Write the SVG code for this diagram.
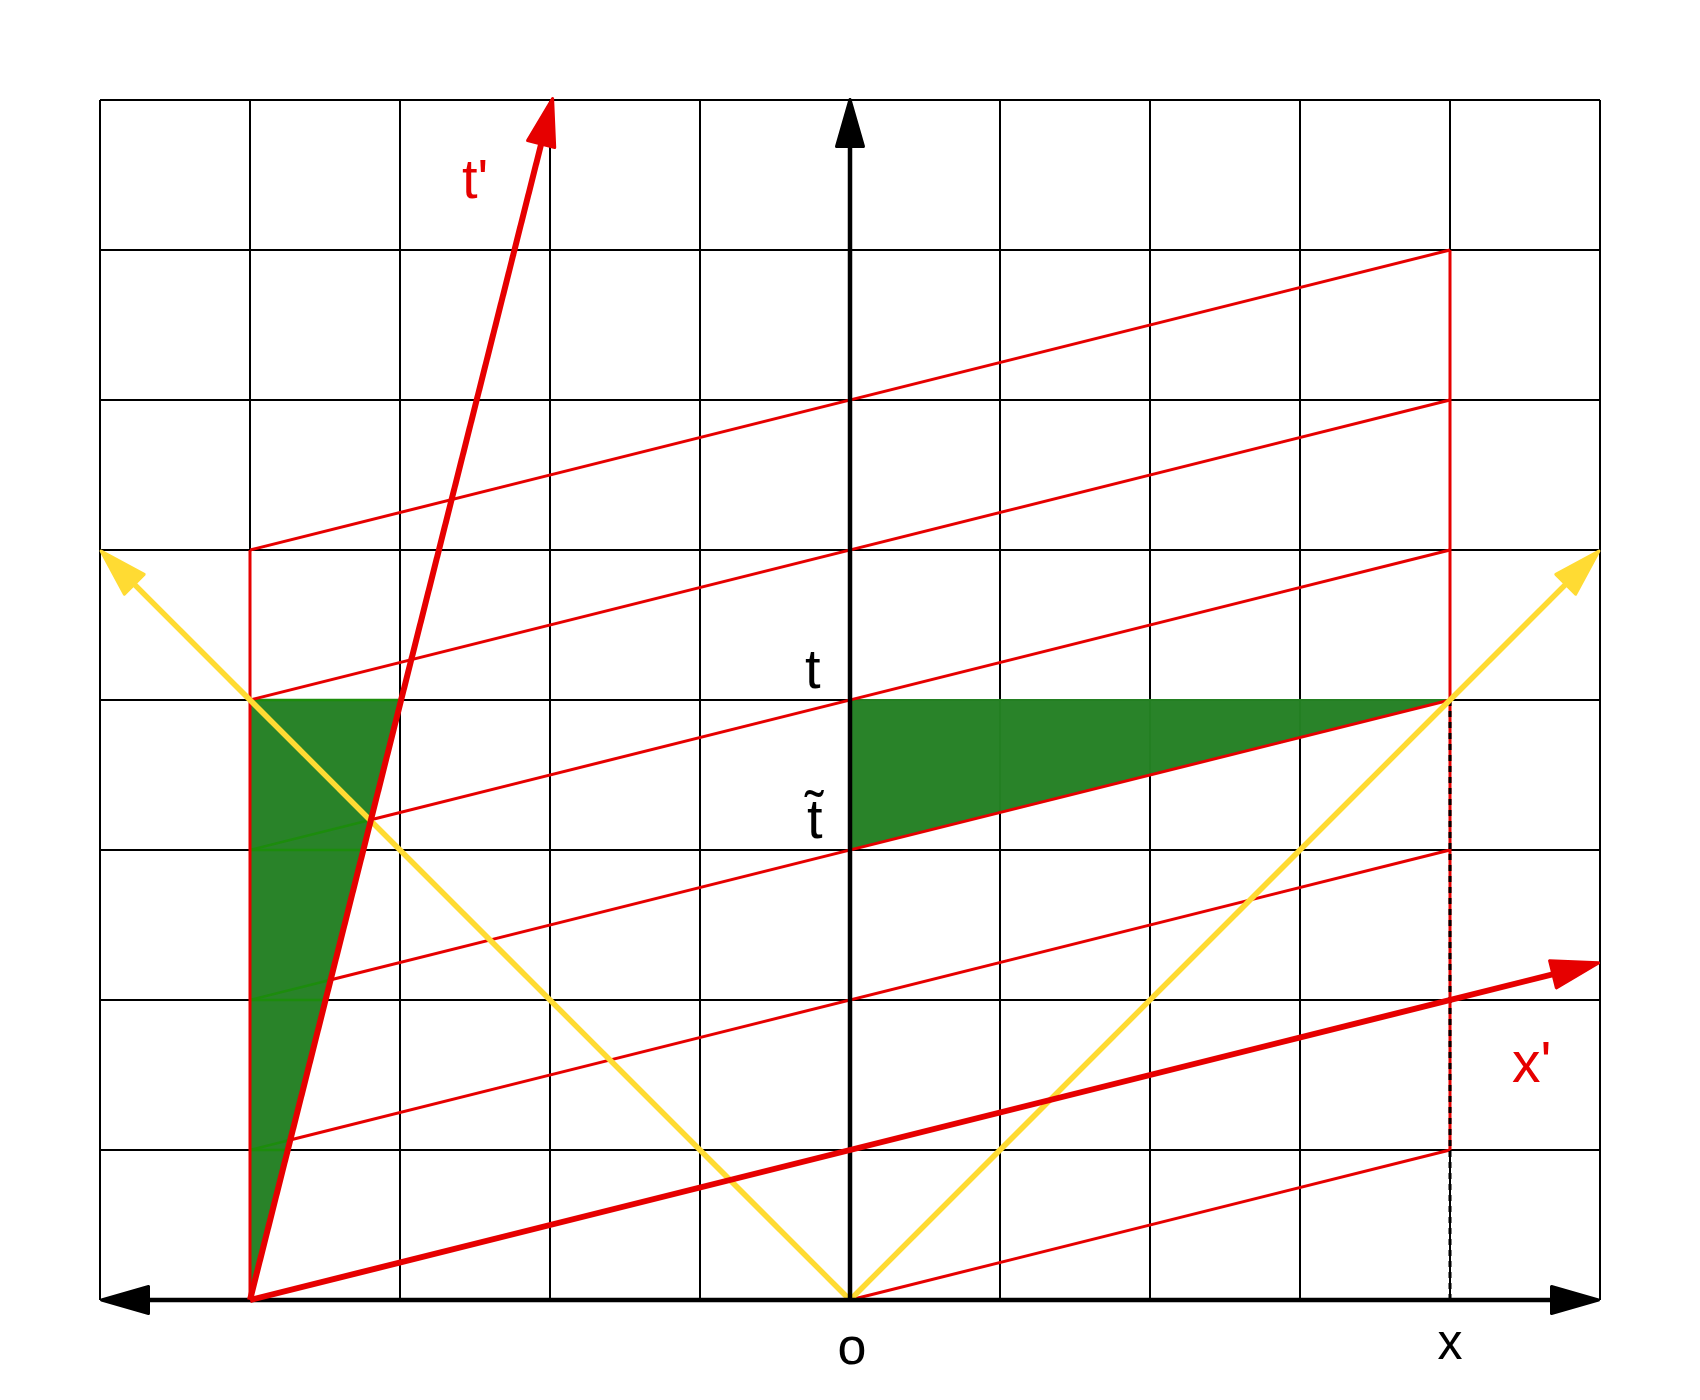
<svg xmlns="http://www.w3.org/2000/svg" width="1700" height="1400" viewBox="0 0 1700 1400">
  <style>
    .grid line { stroke: #000; stroke-width: 2; }
    .fill { fill: #298329; stroke: none; }
    .gl { stroke: #1c8c0c; stroke-width: 2.5; fill: none; }
    .gl2 { stroke: #237f22; stroke-width: 2; fill: none; }
    .thin { stroke: #e60000; stroke-width: 3; fill: none; }
    .thick { stroke: #e60000; stroke-width: 6; fill: none; }
    .yel { stroke: #ffdb33; stroke-width: 5.5; fill: none; }
    .axis { stroke: #000; stroke-width: 4.5; fill: none; }
    .dash { stroke: #000; stroke-width: 3; stroke-dasharray: 6 5; fill: none; }
    .lbl { font-family: "Liberation Sans", Arial, sans-serif; }
    .blk { fill: #000; }
    .red { fill: #e60000; }
  </style>
  <defs>
    <marker id="ahBlack" markerUnits="userSpaceOnUse" viewBox="-5 -20 60 40" markerWidth="60" markerHeight="40" refX="30" refY="0" orient="auto-start-reverse" overflow="visible">
      <path d="M1.5,-13.5 L48.5,0 L1.5,13.5 Z" fill="#000" stroke="#000" stroke-width="3" stroke-linejoin="round"/>
    </marker>
    <marker id="ahRed" markerUnits="userSpaceOnUse" viewBox="-5 -20 60 40" markerWidth="60" markerHeight="40" refX="30" refY="0" orient="auto" overflow="visible">
      <path d="M1.5,-14 L48.5,0 L1.5,14 Z" fill="#e60000" stroke="#e60000" stroke-width="3" stroke-linejoin="round"/>
    </marker>
    <marker id="ahYellow" markerUnits="userSpaceOnUse" viewBox="-5 -20 60 40" markerWidth="60" markerHeight="40" refX="30" refY="0" orient="auto" overflow="visible">
      <path d="M1.5,-14 L48.5,0 L1.5,14 Z" fill="#ffdb33" stroke="#ffdb33" stroke-width="3" stroke-linejoin="round"/>
    </marker>
  </defs>

  <rect x="0" y="0" width="1700" height="1400" fill="#fff"/>

  <g id="grid" class="grid">
    <line x1="100" y1="100" x2="100" y2="1300"/>
    <line x1="250" y1="100" x2="250" y2="1300"/>
    <line x1="400" y1="100" x2="400" y2="1300"/>
    <line x1="550" y1="100" x2="550" y2="1300"/>
    <line x1="700" y1="100" x2="700" y2="1300"/>
    <line x1="850" y1="100" x2="850" y2="1300"/>
    <line x1="1000" y1="100" x2="1000" y2="1300"/>
    <line x1="1150" y1="100" x2="1150" y2="1300"/>
    <line x1="1300" y1="100" x2="1300" y2="1300"/>
    <line x1="1450" y1="100" x2="1450" y2="1300"/>
    <line x1="1600" y1="100" x2="1600" y2="1300"/>
    <line x1="100" y1="100" x2="1600" y2="100"/>
    <line x1="100" y1="250" x2="1600" y2="250"/>
    <line x1="100" y1="400" x2="1600" y2="400"/>
    <line x1="100" y1="550" x2="1600" y2="550"/>
    <line x1="100" y1="700" x2="1600" y2="700"/>
    <line x1="100" y1="850" x2="1600" y2="850"/>
    <line x1="100" y1="1000" x2="1600" y2="1000"/>
    <line x1="100" y1="1150" x2="1600" y2="1150"/>
  </g>

  <g id="triangle-left">
    <polygon class="fill" points="250,700 400,700 250,1300"/>
    <line class="gl" x1="250" y1="700" x2="400" y2="700"/>
    <line class="gl" x1="250" y1="850" x2="362.5" y2="850"/>
    <line class="gl" x1="250" y1="1000" x2="325" y2="1000"/>
    <line class="gl" x1="250" y1="1150" x2="287.5" y2="1150"/>
    <line class="gl" x1="250" y1="850" x2="370" y2="820"/>
    <line class="gl" x1="250" y1="1000" x2="330" y2="980"/>
    <line class="gl" x1="250" y1="1150" x2="290" y2="1140"/>
  </g>

  <g id="triangle-right">
    <polygon class="fill" points="850,700 1450,700 850,850"/>
    <line class="gl2" x1="850" y1="700" x2="1450" y2="700"/>
    <line class="gl2" x1="1000" y1="700" x2="1000" y2="812.5"/>
    <line class="gl2" x1="1150" y1="700" x2="1150" y2="775"/>
    <line class="gl2" x1="1300" y1="700" x2="1300" y2="737.5"/>
  </g>

  <g id="connectors">
    <g id="simultaneity-lines">
      <line class="thin" x1="850" y1="1300" x2="1450" y2="1150"/>
      <line class="thin" x1="290" y1="1140" x2="1450" y2="850"/>
      <line class="thin" x1="330" y1="980" x2="1450" y2="700"/>
      <line class="thin" x1="370" y1="820" x2="1450" y2="550"/>
      <line class="thin" x1="250" y1="700" x2="1450" y2="400"/>
      <line class="thin" x1="250" y1="550" x2="1450" y2="250"/>
      <line class="thin" x1="250" y1="550" x2="250" y2="1300"/>
      <line class="thin" x1="1450" y1="250" x2="1450" y2="1150"/>
    </g>
    <line id="x-projection" class="dash" x1="1450" y1="700" x2="1450" y2="1300"/>
    <g id="light-cone">
      <line class="yel" x1="850" y1="1300" x2="1585.86" y2="564.14" marker-end="url(#ahYellow)"/>
      <line class="yel" x1="850" y1="1300" x2="114.14" y2="564.14" marker-end="url(#ahYellow)"/>
    </g>
    <g id="axes">
      <line class="axis" x1="850" y1="1300" x2="850" y2="118" marker-end="url(#ahBlack)"/>
      <line class="axis" x1="120" y1="1300" x2="1580" y2="1300" marker-start="url(#ahBlack)" marker-end="url(#ahBlack)"/>
    </g>
    <g id="primed-axes">
      <line class="thick" x1="250" y1="1300" x2="548.1" y2="116.4" marker-end="url(#ahRed)"/>
      <line class="thick" x1="250" y1="1300" x2="1580.6" y2="967.35" marker-end="url(#ahRed)"/>
    </g>
  </g>

  <g id="labels" class="lbl">
    <text class="red" x="462" y="198" font-size="56">t'</text>
    <text class="red" x="1512" y="1082" font-size="57">x'</text>
    <text class="blk" x="805" y="688" font-size="56">t</text>
    <text class="blk" x="807" y="838" font-size="56">t̃</text>
    <text class="blk" x="852" y="1364" font-size="52" text-anchor="middle">o</text>
    <text class="blk" x="1450" y="1359" font-size="50" text-anchor="middle">x</text>
  </g>
</svg>
